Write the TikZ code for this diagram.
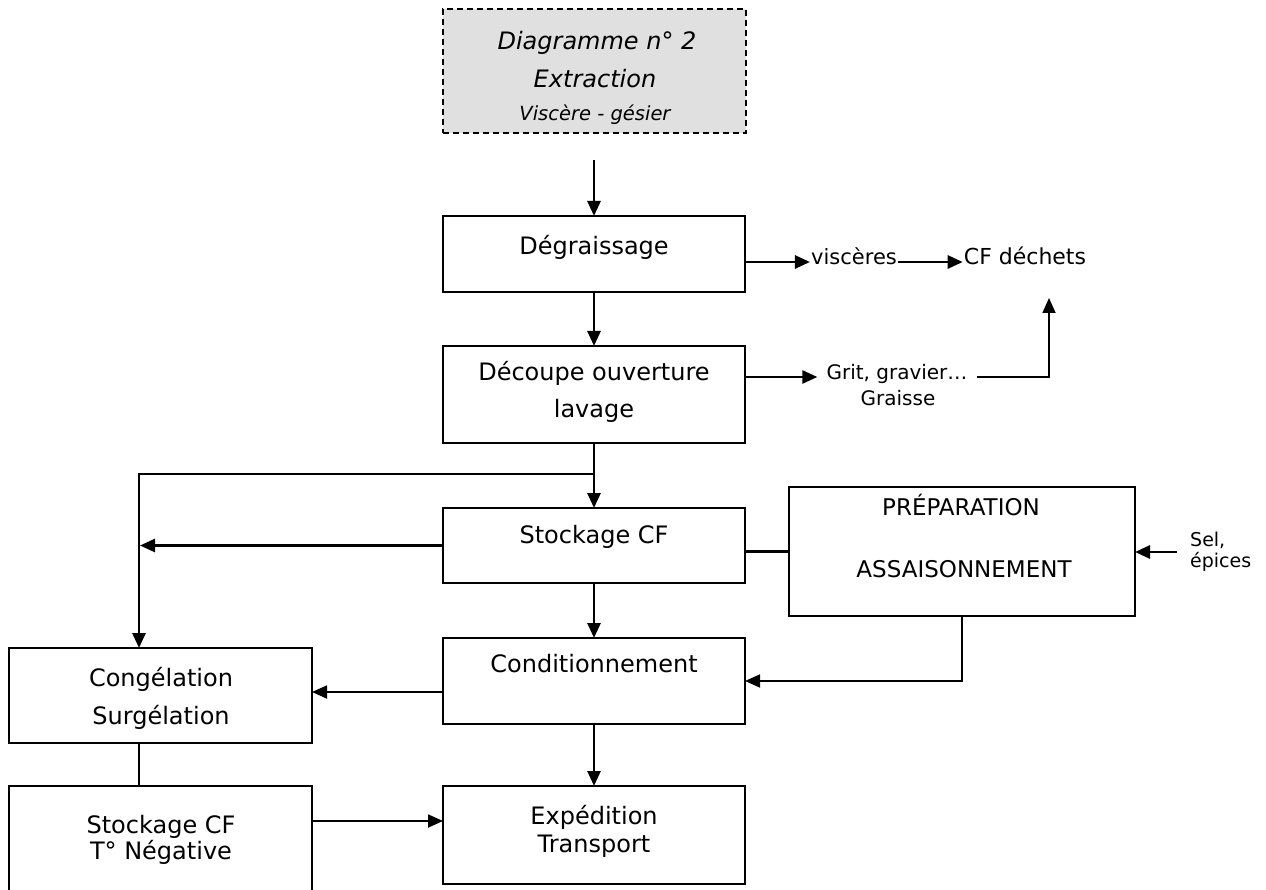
\documentclass[tikz,border=0pt]{standalone}
\usepackage{fontspec}
\setmainfont{DejaVu Sans}
\usetikzlibrary{arrows.meta}
\begin{document}
\begin{tikzpicture}[x=1pt,y=-1pt,
  box/.style={draw, line width=2.2pt, inner sep=0pt, outer sep=0pt, rectangle},
  lbl/.style={inner sep=1pt, yshift=-5pt, font=\fontsize{24}{28}\selectfont, text height=0.72em, text depth=0.2em},
  small/.style={lbl, font=\fontsize{20}{24}\selectfont},
  caps/.style={lbl, font=\fontsize{23}{26}\selectfont},
  ttl/.style={lbl, font=\fontsize{24}{28}\selectfont\itshape},
  ttlsmall/.style={lbl, font=\fontsize{19.5}{23}\selectfont\itshape},
  arr/.style={line width=2.7pt, -{Triangle[length=15pt,width=13pt]}},
  tarr/.style={line width=1.8pt, -{Triangle[length=15pt,width=13pt]}},
  link/.style={line width=2.7pt},
  tlink/.style={line width=1.8pt}]
\useasboundingbox (0,0) rectangle (1266,890);

% title block
\node[box, dashed, dash pattern=on 6pt off 4pt, fill=black!12,
      minimum width=303, minimum height=124] (title) at (594.5,71) {};
\node[ttl] (t1) at (597,42) {Diagramme n° 2};
\node[ttl] (t2) at (595,80) {Extraction};
\node[ttlsmall] (t3) at (595,113) {Viscère - gésier};
\coordinate (tstart) at (594,160);

% process boxes
\node[box, minimum width=302, minimum height=76] (deg) at (594,254) {};
\node[lbl] (ldeg) at (594,247) {Dégraissage};

\node[box, minimum width=302, minimum height=97] (dec) at (594,394.5) {};
\node[lbl] (ldec1) at (594,373) {Découpe ouverture};
\node[lbl] (ldec2) at (594,410) {lavage};

\node[box, minimum width=302, minimum height=75] (stock) at (594,545.5) {};
\node[lbl] (lstock) at (594,536) {Stockage CF};

\node[box, minimum width=346, minimum height=129] (prep) at (962,551.5) {};
\node[caps] (lprep1) at (961,508) {PRÉPARATION};
\node[caps] (lprep2) at (964,570) {ASSAISONNEMENT};

\node[box, minimum width=302, minimum height=86] (cond) at (594,681) {};
\node[lbl] (lcond) at (594,665) {Conditionnement};

\node[box, minimum width=303, minimum height=95] (cong) at (160.5,695.5) {};
\node[lbl] (lcong1) at (161,679) {Congélation};
\node[lbl] (lcong2) at (161,717) {Surgélation};

\node[box, minimum width=303, minimum height=108] (neg) at (160.5,840) {};
\node[lbl] (lneg1) at (161,826) {Stockage CF};
\node[lbl] (lneg2) at (161,852) {T° Négative};

\node[box, minimum width=302, minimum height=98] (exp) at (594,835) {};
\node[lbl] (lexp1) at (594,817) {Expédition};
\node[lbl] (lexp2) at (594,845) {Transport};

% side texts
\node[lbl, font=\fontsize{21}{25}\selectfont] (visc) at (854,257) {viscères};
\node[lbl, font=\fontsize{22}{26}\selectfont] (cfd) at (1025,257) {CF déchets};
\node[small] (grit1) at (897,372) {Grit, gravier…};
\node[small] (grit2) at (898,398) {Graisse};
\node[small, anchor=west, align=left, font=\fontsize{19}{21}\selectfont,
      text height=, text depth=] (sel) at (1189,547) {Sel,\\épices};
\coordinate (cfup) at (1049,298);

% connectors
\draw[arr] (tstart) -- (deg.north);
\draw[arr] (deg.south) -- (dec.north);
\draw[arr] (deg.east |- visc.west) -- (visc.west);
\draw[arr] (visc.east) -- (visc.east -| cfd.west);
\draw[arr] (dec.east |- grit1.west) -- ([xshift=-8pt]grit1.west);
\draw[tarr] ([xshift=8pt]grit1.east) -| (cfup);

\coordinate (br) at (594,474);
\draw[arr] (dec.south) -- (stock.north);
\draw[arr] (br) -| ([xshift=-21.5pt]cong.north);
\draw[arr] (stock.west) -- ([xshift=-20.5pt]cong.north |- stock.west);
\draw[link] (stock.east |- prep.west) -- (prep.west);
\draw[arr] ([xshift=-12pt]sel.west) -- (sel.west -| prep.east);

\draw[arr] (stock.south) -- (cond.north);
\draw[tarr] (prep.south) |- (cond.east);
\coordinate (cw) at ([yshift=-11pt]cond.west);
\draw[tarr] (cw) -- (cw -| cong.east);

\draw[arr] (cond.south) -- (exp.north);
\draw[tlink] ([xshift=-21.5pt]cong.south) -- ([xshift=-21.5pt]neg.north);
\coordinate (nw) at ([yshift=14pt]exp.west);
\draw[tarr] (nw -| neg.east) -- (nw);
\end{tikzpicture}
\end{document}
